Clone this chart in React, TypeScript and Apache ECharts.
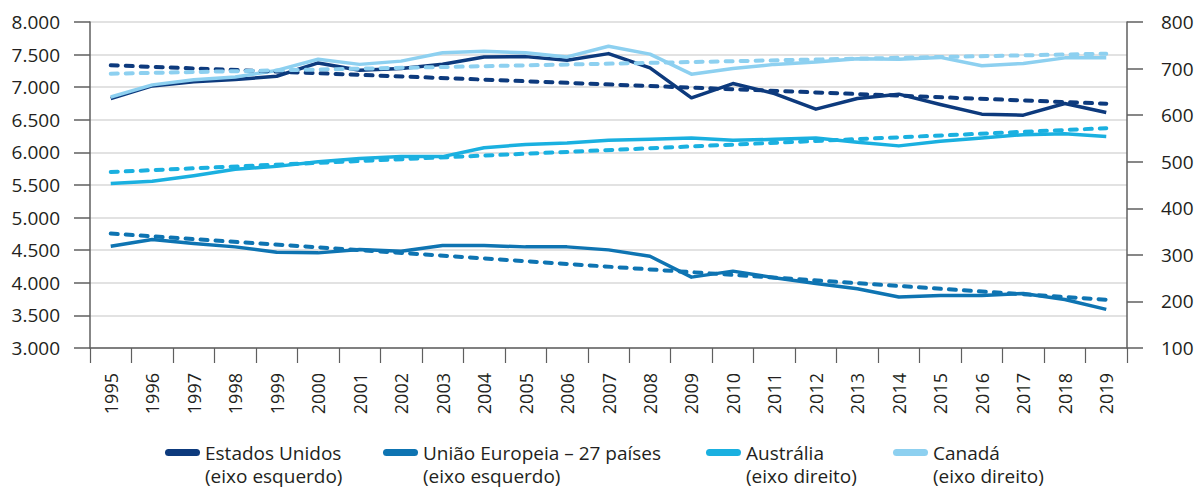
import React, { useEffect, useRef } from 'react';
import * as echarts from 'echarts';

const years = ['1995', '1996', '1997', '1998', '1999', '2000', '2001', '2002', '2003', '2004', '2005', '2006', '2007', '2008', '2009', '2010', '2011', '2012', '2013', '2014', '2015', '2016', '2017', '2018', '2019'];

// left axis
const estadosUnidos = [6827, 7020, 7082, 7117, 7168, 7372, 7260, 7286, 7352, 7464, 7469, 7413, 7515, 7296, 6837, 7056, 6903, 6663, 6827, 6893, 6735, 6587, 6571, 6750, 6612];
const uniaoEuropeia = [4561, 4663, 4602, 4551, 4469, 4459, 4510, 4485, 4571, 4571, 4551, 4551, 4505, 4408, 4087, 4179, 4077, 3990, 3908, 3781, 3806, 3806, 3837, 3745, 3592];
// right axis
const australia = [453, 458, 470, 484, 490, 500, 507, 511, 511, 530, 537, 540, 546, 548, 551, 546, 548, 551, 542, 534, 544, 551, 558, 560, 554];
const canada = [639, 665, 676, 682, 696, 720, 709, 716, 734, 737, 734, 725, 748, 731, 688, 700, 709, 714, 721, 720, 724, 706, 711, 723, 723];

// linear trend lines: value in first and last year
const tendenciaEstadosUnidos = [7337, 6748];
const tendenciaUniaoEuropeia = [4755, 3740];
const tendenciaAustralia = [478, 572];
const tendenciaCanada = [689, 732];

const leftTicks = { min: 3000, max: 8000, interval: 500 };
const rightTicks = { min: 100, max: 800, interval: 100 };

const names = ['Estados Unidos', 'União Europeia – 27 países', 'Austrália', 'Canadá'];
const subtitles = ['(eixo esquerdo)', '(eixo esquerdo)', '(eixo direito)', '(eixo direito)'];
const colors = ['#0d3a7d', '#0e74b2', '#1ab0e0', '#8dd0f0'];

export default function App() {
  const ref = useRef<HTMLDivElement>(null);
  useEffect(() => {
    document.body.style.margin = '0';
    const chart = echarts.init(ref.current as HTMLDivElement, null, { renderer: 'svg' });
    const font = 'Open Sans';
    const axisColor = '#5f5f5f';
    const textColor = '#231f20';
    const fmt = (v: number) => String(v).replace(/\B(?=(\d{3})+(?!\d))/g, '.');
    const capsule = 'path://M3.5,0 H31.5 A3.5,3.5 0 0 1 31.5,7 H3.5 A3.5,3.5 0 0 1 3.5,0 Z';
    const legendLefts = [165, 383, 706, 893];

    const solids = [estadosUnidos, uniaoEuropeia, australia, canada];
    const trends = [tendenciaEstadosUnidos, tendenciaUniaoEuropeia, tendenciaAustralia, tendenciaCanada];
    const axisIdx = [0, 0, 1, 1];

    const series: any[] = [];
    solids.forEach((d, i) => {
      series.push({
        name: names[i],
        type: 'line',
        yAxisIndex: axisIdx[i],
        data: d,
        symbol: 'none',
        color: colors[i],
        lineStyle: { width: 3.5, color: colors[i], join: 'round' },
        z: 2,
      });
    });
    trends.forEach((t, i) => {
      series.push({
        name: 'Tendência ' + names[i],
        type: 'line',
        yAxisIndex: axisIdx[i],
        data: [[years[0], t[0]], [years[years.length - 1], t[1]]],
        symbol: 'none',
        color: colors[i],
        lineStyle: { width: 4, color: colors[i], type: [7, 8], cap: 'round' },
        z: 3,
      });
    });

    const legends = names.map((n, i) => ({
      left: legendLefts[i],
      top: 441,
      padding: 0,
      data: [n],
      itemWidth: 35,
      itemHeight: 7,
      icon: capsule,
      selectedMode: false,
      textStyle: { fontFamily: font, fontSize: 19, color: textColor, lineHeight: 23 },
    }));

    const subtitleTexts = subtitles.map((s, i) => ({
      type: 'text',
      left: legendLefts[i] + 40,
      top: 465,
      style: { text: s, fontFamily: font, fontSize: 19, fill: textColor, lineHeight: 21 },
    }));

    chart.setOption({
      animation: false,
      backgroundColor: '#ffffff',
      grid: { left: 90, right: 71, top: 22, bottom: 140, containLabel: false },
      legend: legends,
      graphic: subtitleTexts,
      xAxis: {
        type: 'category',
        data: years,
        boundaryGap: true,
        axisLine: { show: true, lineStyle: { color: axisColor, width: 1.5 } },
        axisTick: { show: true, length: 15, lineStyle: { color: axisColor, width: 1.2 } },
        axisLabel: { rotate: 90, margin: 25, fontFamily: font, fontSize: 18, color: textColor, interval: 0 },
        splitLine: { show: false },
      },
      yAxis: [
        {
          type: 'value',
          position: 'left',
          ...leftTicks,
          axisLine: { show: true, lineStyle: { color: axisColor, width: 1.5 } },
          axisTick: { show: true, length: 16, lineStyle: { color: axisColor, width: 1.5 } },
          axisLabel: { margin: 30, fontFamily: font, fontSize: 19, color: textColor, formatter: fmt },
          splitLine: { show: true, lineStyle: { color: '#d9d9d9', width: 1.5 } },
        },
        {
          type: 'value',
          position: 'right',
          ...rightTicks,
          axisLine: { show: true, lineStyle: { color: axisColor, width: 1.5 } },
          axisTick: { show: true, length: 16, lineStyle: { color: axisColor, width: 1.5 } },
          axisLabel: { margin: 34, fontFamily: font, fontSize: 19, color: textColor, formatter: fmt },
          splitLine: { show: false },
        },
      ],
      series,
    });
    return () => chart.dispose();
  }, []);
  return <div ref={ref} style={{ position: 'absolute', left: 0, top: 0, width: 1198, height: 488 }} />;
}
